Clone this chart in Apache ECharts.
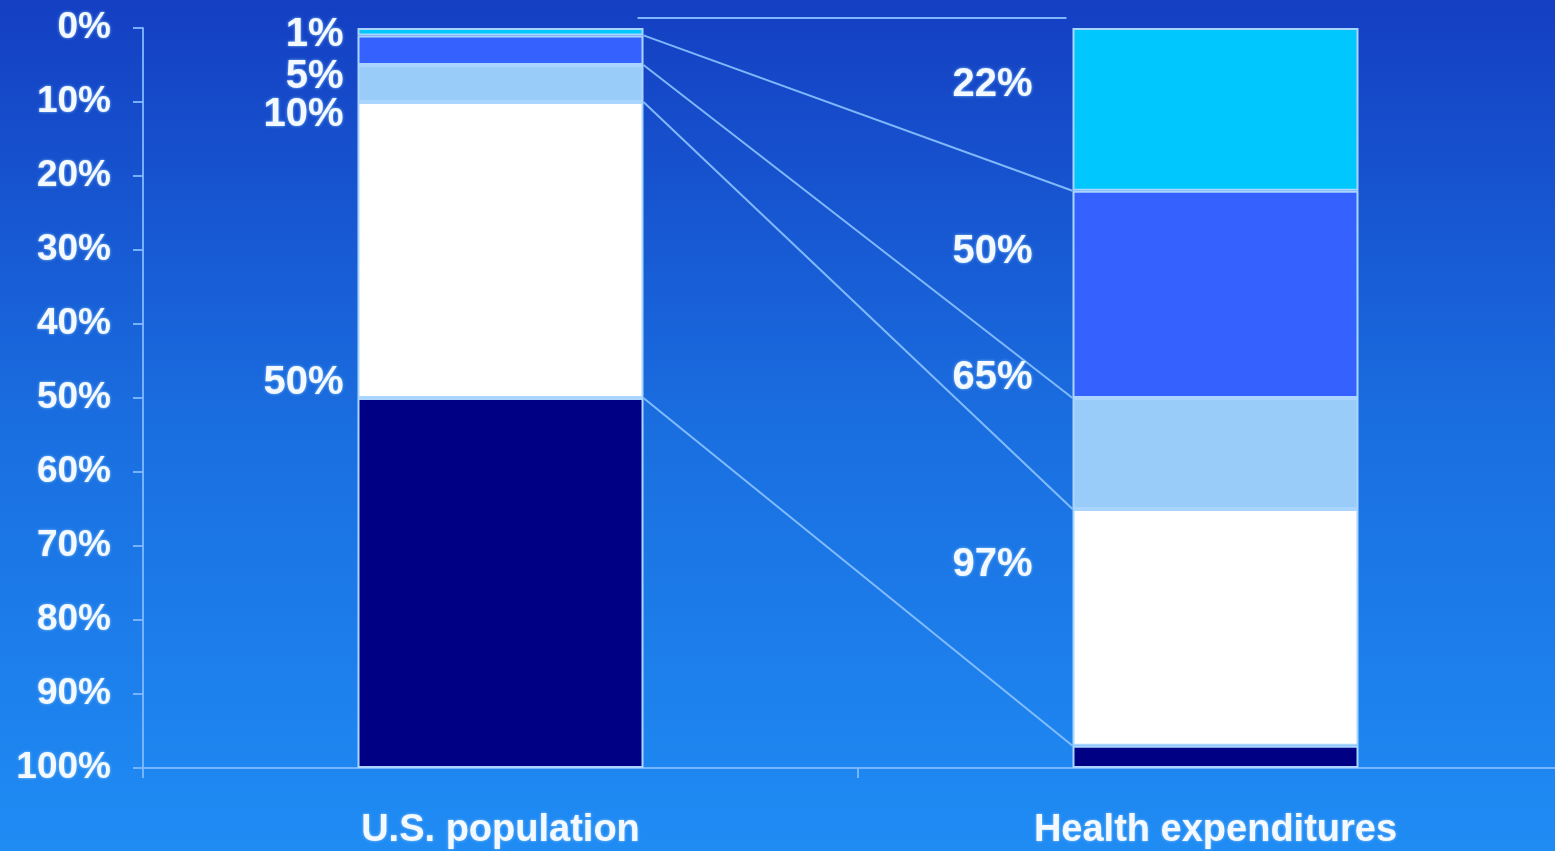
<!DOCTYPE html>
<html>
<head>
<meta charset="utf-8">
<title>U.S. population vs. health expenditures</title>
<script src="https://cdn.jsdelivr.net/npm/echarts@6/dist/echarts.min.js"></script>
<style>
  html, body { margin: 0; padding: 0; width: 100%; height: 100%; overflow: hidden; background: #1a6ee0; }
  /* the category axis runs slightly past the right edge of the page */
  #chart { width: 1573px; height: 851px; }
</style>
</head>
<body>
<div id="chart"></div>
<script>
// Share of the population (left column) and of health spending (right column)
// for each group, ordered from the highest spenders down.
const categories = ['U.S. population', 'Health expenditures'];
const tierNames = ['Top 1%', 'Next 4%', 'Next 5%', 'Next 40%', 'Bottom 50%'];
const populationShare = [1, 4, 5, 40, 50];
const spendingShare = [22, 28, 15, 32, 3];
const yTicks = [0, 10, 20, 30, 40, 50, 60, 70, 80, 90, 100];

// Running totals: where each group's boundary sits on the 0-100% scale
function runningTotals(arr) {
  let s = 0;
  return arr.map(v => (s += v));
}
const populationCum = runningTotals(populationShare);   // 1, 5, 10, 50, 100
const spendingCum = runningTotals(spendingShare);       // 22, 50, 65, 97, 100

// ---- styling ----
const tierColors = ['#00c8ff', '#3562ff', '#9accfa', '#ffffff', '#000085'];
const edgeColor = '#a9d5ff';
const guideColor = 'rgba(140,195,255,0.9)';
const axisColor = 'rgba(130,185,255,0.9)';
const FONT = '"Liberation Sans", Arial, Helvetica, sans-serif';
const textStyleBase = {
  color: '#f3f9ff',
  fontFamily: FONT,
  fontWeight: 'bold',
  textShadowColor: 'rgba(150,205,255,0.9)',
  textShadowBlur: 3
};
const BAR_FRACTION = 0.4;               // bar width as share of the category band
// vertical nudges (px) that keep the stacked callouts readable
const leftLabelNudge = [0, 12, 13, -15];
const rightLabelNudge = [-106, -146, -131, -181];

const chart = echarts.init(document.getElementById('chart'), null, { renderer: 'canvas' });

const barSeries = tierNames.map((name, i) => ({
  name,
  type: 'bar',
  stack: 'share',
  barWidth: (BAR_FRACTION * 100) + '%',
  data: [populationShare[i], spendingShare[i]],
  itemStyle: { color: tierColors[i], borderColor: edgeColor, borderWidth: 2 },
  silent: true,
  z: 3
}));

// Guide lines joining each population boundary to its spending boundary
const guideData = [[0, 0, 1, 0]].concat(
  populationCum.slice(0, 4).map((v, i) => [0, v, 1, spendingCum[i]])
);

const guideSeries = {
  type: 'custom',
  name: 'guides',
  silent: true,
  z: 2,
  encode: { x: [0, 2], y: [1, 3] },
  data: guideData,
  renderItem(params, api) {
    const half = api.size([1, 0])[0] * BAR_FRACTION / 2;
    const a = api.coord([api.value(0), api.value(1)]);
    const b = api.coord([api.value(2), api.value(3)]);
    // the 0% rule runs a little above the bar tops
    const top = api.value(1) === 0 && api.value(3) === 0;
    const lift = top ? -10 : 0;
    const inset = top ? 6 : 0;
    return {
      type: 'line',
      shape: { x1: a[0] + half - inset, y1: a[1] + lift, x2: b[0] - half - inset, y2: b[1] + lift },
      style: { stroke: guideColor, lineWidth: 2 }
    };
  }
};

// Percentage callouts beside each column
const calloutData = populationCum.slice(0, 4).map(v => [0, v])
  .concat(spendingCum.slice(0, 4).map(v => [1, v]));

const calloutSeries = {
  type: 'custom',
  name: 'callouts',
  silent: true,
  z: 5,
  encode: { x: 0, y: 1 },
  data: calloutData,
  renderItem(params, api) {
    const col = api.value(0);
    const val = api.value(1);
    const half = api.size([1, 0])[0] * BAR_FRACTION / 2;
    const p = api.coord([col, val]);
    const k = params.dataIndex % 4;
    const nudge = col === 0 ? leftLabelNudge[k] : rightLabelNudge[k];
    const gap = col === 0 ? 14 : 40;
    return {
      type: 'text',
      x: p[0] - half - gap,
      y: p[1] + nudge,
      style: Object.assign({}, textStyleBase, {
        text: val + '%',
        fontSize: 40,
        fill: textStyleBase.color,
        align: 'right',
        verticalAlign: 'middle'
      })
    };
  }
};

const option = {
  animation: false,
  backgroundColor: {
    type: 'linear', x: 0, y: 0, x2: 0, y2: 1,
    colorStops: [
      { offset: 0, color: '#143fc2' },
      { offset: 0.5, color: '#1a6ee0' },
      { offset: 1, color: '#1f8cf4' }
    ]
  },
  grid: { left: 143, right: 0, top: 28, height: 740, containLabel: false },
  xAxis: {
    type: 'category',
    position: 'bottom',
    data: categories,
    axisLine: { show: true, onZero: false, lineStyle: { color: axisColor, width: 2 } },
    axisTick: { show: true, length: 10, lineStyle: { color: axisColor, width: 2 } },
    axisLabel: Object.assign({}, textStyleBase, { fontSize: 38, margin: 44 }),
    splitLine: { show: false }
  },
  yAxis: {
    type: 'value',
    inverse: true,
    min: 0,
    max: 100,
    interval: 10,
    axisLine: { show: true, lineStyle: { color: axisColor, width: 2 } },
    axisTick: { show: true, length: 10, lineStyle: { color: axisColor, width: 2 } },
    axisLabel: Object.assign({}, textStyleBase, {
      fontSize: 37,
      margin: 32,
      formatter: v => (yTicks.indexOf(v) >= 0 ? v + '%' : '')
    }),
    splitLine: { show: false }
  },
  series: barSeries.concat([guideSeries, calloutSeries])
};

chart.setOption(option);
</script>
</body>
</html>
